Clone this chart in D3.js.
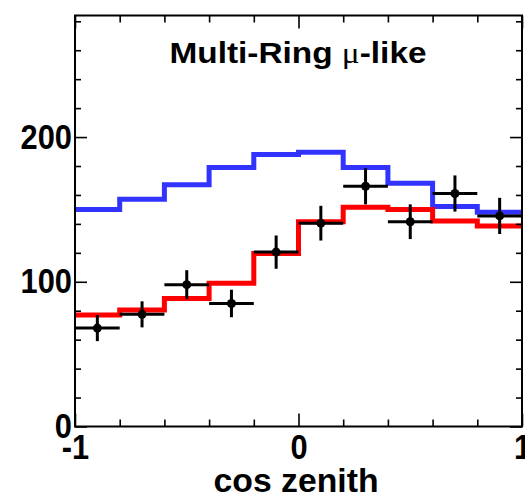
<!DOCTYPE html>
<html>
<head>
<meta charset="utf-8">
<script src="https://cdn.jsdelivr.net/npm/d3@7/dist/d3.min.js"></script>
<style>
  html, body { margin: 0; padding: 0; background: #fff; }
  svg { display: block; }
</style>
</head>
<body>
<svg id="chart" width="525" height="496"></svg>
<script>
// cos(zenith) binning: 10 bins of width 0.2
const binEdges = [-1, -0.8, -0.6, -0.4, -0.2, 0, 0.2, 0.4, 0.6, 0.8, 1];
const binCenters = [-0.9, -0.7, -0.5, -0.3, -0.1, 0.1, 0.3, 0.5, 0.7, 0.9];

// Expectation without oscillation (blue)
const noOscValues = [150, 157, 167, 179, 188, 189.5, 179, 168, 152, 148];
// Best-fit oscillated expectation (red)
const oscValues = [77, 80.5, 88.5, 99, 119.5, 141.5, 151.5, 150, 142, 138.5];
// Observed events and their errors
const dataValues = [68, 77.5, 98, 85, 120.5, 140.5, 166, 141.5, 161, 145.5];
const dataErrors = [9, 9, 10, 9.5, 11.5, 12, 12.5, 12, 12.5, 12.5];

const yMajorTicks = [0, 100, 200];
const yMinorTicks = [20, 40, 60, 80, 120, 140, 160, 180, 220, 240, 260, 280];
const xMajorTicks = [-1, 0, 1];
const xMinorTicks = [-0.8, -0.6, -0.4, -0.2, 0.2, 0.4, 0.6, 0.8];

const titleText = "Multi-Ring ";
const titleMu = "\u03BC";
const titleTail = "-like";
const xTitle = "cos zenith";

const svg = d3.select("#chart");
const plotLeft = 75, plotRight = 522, plotTop = 15.5, plotBottom = 426.5;

const x = d3.scaleLinear().domain([-1, 1]).range([plotLeft, plotRight]);
const y = d3.scaleLinear().domain([0, 284]).range([plotBottom, plotTop]);

const FONT = "'Liberation Sans', Arial, Helvetica, sans-serif";

// Step-histogram path: each bin's value held across its width
function histPoints(vals) {
  const pts = vals.map((v, i) => [binEdges[i], v]);
  pts.push([binEdges[binEdges.length - 1], vals[vals.length - 1]]);
  return pts;
}
const stepLine = d3.line()
  .x(d => x(d[0]))
  .y(d => y(d[1]))
  .curve(d3.curveStepAfter);

const plot = svg.append("g");

plot.append("path")
  .attr("d", stepLine(histPoints(noOscValues)))
  .attr("fill", "none")
  .attr("stroke", "#3333ff")
  .attr("stroke-width", 5);

plot.append("path")
  .attr("d", stepLine(histPoints(oscValues)))
  .attr("fill", "none")
  .attr("stroke", "#ff0000")
  .attr("stroke-width", 5);

// Data points with error bars
const pts = plot.append("g");
binCenters.forEach((c, i) => {
  const g = pts.append("g");
  g.append("line")
    .attr("x1", x(binEdges[i])).attr("x2", x(binEdges[i + 1]))
    .attr("y1", y(dataValues[i])).attr("y2", y(dataValues[i]))
    .attr("stroke", "#000").attr("stroke-width", 3);
  g.append("line")
    .attr("x1", x(c)).attr("x2", x(c))
    .attr("y1", y(dataValues[i] - dataErrors[i]))
    .attr("y2", y(dataValues[i] + dataErrors[i]))
    .attr("stroke", "#000").attr("stroke-width", 3);
  g.append("circle")
    .attr("cx", x(c)).attr("cy", y(dataValues[i]))
    .attr("r", 4.5).attr("fill", "#000");
});

// Axes: ticks point inward on all four sides
function styleAxis(g) {
  g.select(".domain").remove();
  g.selectAll(".tick line").attr("stroke", "#000").attr("stroke-width", 1.6);
  g.selectAll("text")
    .attr("font-family", FONT)
    .attr("font-weight", "bold")
    .attr("font-size", 35)
    .attr("fill", "#000");
}
const plainNumber = d => String(d);

const gLeft = svg.append("g").attr("transform", `translate(${plotLeft},0)`);
gLeft.append("g").call(d3.axisLeft(y).tickValues(yMinorTicks).tickSize(-6).tickFormat("")).call(styleAxis);
gLeft.append("g").call(d3.axisLeft(y).tickValues(yMajorTicks).tickSize(-12).tickPadding(3).tickFormat(plainNumber)).call(styleAxis);

const gRight = svg.append("g").attr("transform", `translate(${plotRight},0)`);
gRight.append("g").call(d3.axisRight(y).tickValues(yMinorTicks).tickSize(-6).tickFormat("")).call(styleAxis);
gRight.append("g").call(d3.axisRight(y).tickValues(yMajorTicks).tickSize(-12).tickFormat("")).call(styleAxis);

const gBottom = svg.append("g").attr("transform", `translate(0,${plotBottom})`);
gBottom.append("g").call(d3.axisBottom(x).tickValues(xMinorTicks).tickSize(-7).tickFormat("")).call(styleAxis);
gBottom.append("g").call(d3.axisBottom(x).tickValues(xMajorTicks).tickSize(-13).tickPadding(8).tickFormat(plainNumber)).call(styleAxis);

const gTop = svg.append("g").attr("transform", `translate(0,${plotTop})`);
gTop.append("g").call(d3.axisTop(x).tickValues(xMinorTicks).tickSize(-7).tickFormat("")).call(styleAxis);
gTop.append("g").call(d3.axisTop(x).tickValues(xMajorTicks).tickSize(-13).tickFormat("")).call(styleAxis);

// Tick labels are set in a narrow bold face
svg.selectAll(".tick text").each(function () {
  const t = d3.select(this);
  const w = this.getComputedTextLength();
  if (w > 0) t.attr("textLength", w * 0.88).attr("lengthAdjust", "spacingAndGlyphs");
});

// Frame
svg.append("rect")
  .attr("x", plotLeft).attr("y", plotTop)
  .attr("width", plotRight - plotLeft).attr("height", plotBottom - plotTop)
  .attr("fill", "none").attr("stroke", "#000").attr("stroke-width", 2);

// Title
const title = svg.append("text")
  .attr("x", 298).attr("y", 63)
  .attr("text-anchor", "middle")
  .attr("font-family", FONT)
  .attr("font-weight", "bold")
  .attr("font-size", 30)
  .attr("textLength", 257)
  .attr("lengthAdjust", "spacingAndGlyphs");
title.append("tspan").text(titleText);
title.append("tspan")
  .attr("font-family", "'Liberation Serif', 'DejaVu Serif', serif")
  .attr("font-weight", "normal")
  .text(titleMu);
title.append("tspan").text(titleTail);

// X-axis title
svg.append("text")
  .attr("x", 296).attr("y", 492)
  .attr("text-anchor", "middle")
  .attr("font-family", FONT)
  .attr("font-weight", "bold")
  .attr("font-size", 33)
  .attr("textLength", 165)
  .attr("lengthAdjust", "spacingAndGlyphs")
  .text(xTitle);
</script>
</body>
</html>
